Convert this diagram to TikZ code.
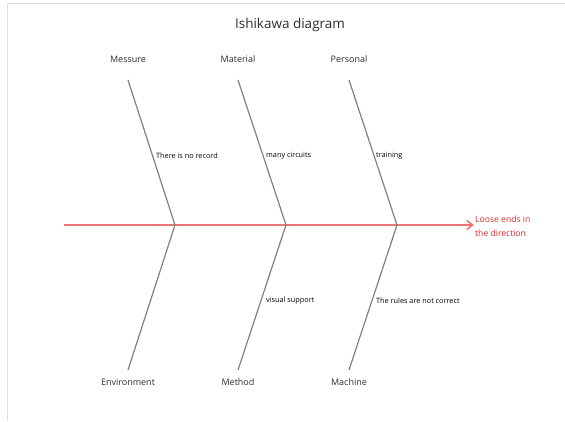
\documentclass[tikz,border=0pt]{standalone}
\usepackage{fontspec}
\setmainfont{Open Sans}
\usetikzlibrary{arrows.meta}

\definecolor{bonegray}{RGB}{128,128,128}
\definecolor{spinered}{RGB}{232,118,118}
\definecolor{effectred}{RGB}{220,40,40}
\definecolor{framegray}{RGB}{222,222,222}
\definecolor{labelgray}{RGB}{45,45,45}

\tikzset{
  bone/.style={draw=bonegray,line width=1.2pt},
  spine/.style={draw=spinered,line width=1.6pt,-{Straight Barb[length=6pt,width=9pt]}},
  category/.style={font=\fontsize{9}{10}\selectfont,text=labelgray},
  cause/.style={font=\fontsize{7.3}{8}\selectfont,text=black,anchor=west,inner sep=0pt}
}

\begin{document}
\begin{tikzpicture}[x=1pt,y=-1pt]

    \useasboundingbox (0,0) rectangle (565,421);

    % Cornice
    \draw[framegray,line width=1pt] (7,421) -- (7,3) -- (565,3);

    % Titolo
    \node[font=\fontsize{13.5}{15}\selectfont,text=labelgray] (title) at (290,25) {Ishikawa diagram};

    % Effetto e spina dorsale
    \coordinate (tail) at (64,225);
    \node[anchor=west,align=left,text=effectred,inner sep=1pt,
          font=\fontsize{8.6}{14}\selectfont] (effect) at (474,226.5) {Loose ends in\\the direction};
    \draw[spine] (tail) -- (tail -| effect.west);

    % Punti sulla spina
    \coordinate (j1) at (175,225);
    \coordinate (j2) at (286,225);
    \coordinate (j3) at (397,225);

    % Estremi delle lische
    \coordinate (t1) at (128,80);  % Sopra
    \coordinate (t2) at (238,80);
    \coordinate (t3) at (349,80);
    \coordinate (b1) at (128,370); % Sotto
    \coordinate (b2) at (238,370);
    \coordinate (b3) at (349,370);

    % Lische
    \draw[bone] (t1) -- (j1) -- (b1);
    \draw[bone] (t2) -- (j2) -- (b2);
    \draw[bone] (t3) -- (j3) -- (b3);

    % Categorie
    \node[category] (messure)     at (128,59)  {Messure};
    \node[category] (material)    at (238,59)  {Material};
    \node[category] (personal)    at (349,59)  {Personal};
    \node[category] (environment) at (128,382) {Environment};
    \node[category] (method)      at (238,382) {Method};
    \node[category] (machine)     at (349,382) {Machine};

    % Cause
    \node[cause] (record)   at (156,156) {There is no record};
    \node[cause] (circuits) at (266,156) {many circuits};
    \node[cause] (training) at (376,156) {training};
    \node[cause] (visual)   at (266,301) {visual support};
    \node[cause] (rules)    at (376,301) {The rules are not correct};

\end{tikzpicture}
\end{document}
